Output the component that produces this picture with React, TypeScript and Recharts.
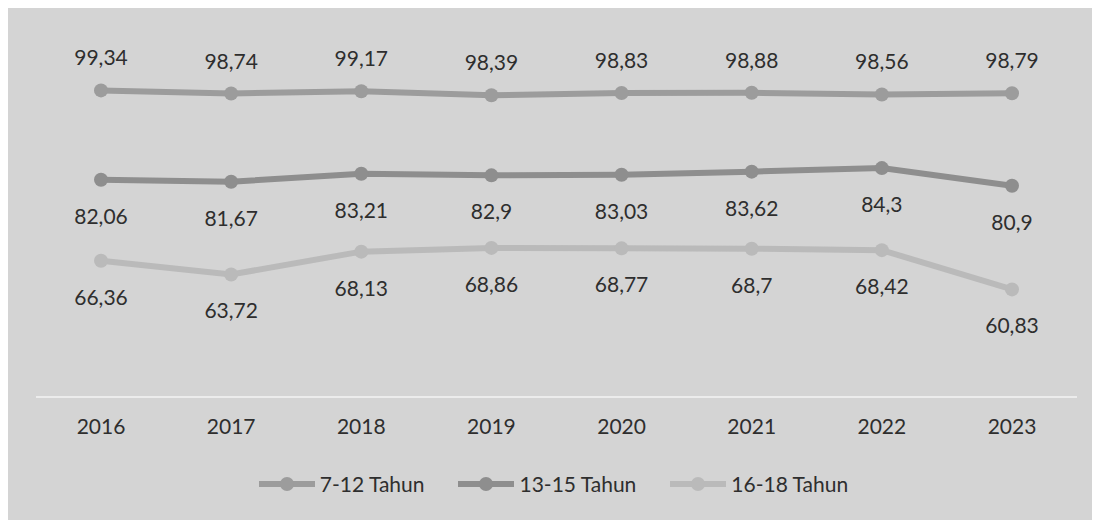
import React from "react";
import { LineChart, Line, XAxis, YAxis, Legend, LabelList } from "recharts";

const years = ["2016", "2017", "2018", "2019", "2020", "2021", "2022", "2023"];
const s712 = [99.34, 98.74, 99.17, 98.39, 98.83, 98.88, 98.56, 98.79];
const s1315 = [82.06, 81.67, 83.21, 82.9, 83.03, 83.62, 84.3, 80.9];
const s1618 = [66.36, 63.72, 68.13, 68.86, 68.77, 68.7, 68.42, 60.83];
const seriesNames = ["7-12 Tahun", "13-15 Tahun", "16-18 Tahun"];
const colors = ["#9c9c9c", "#8e8e8e", "#bababa"];

const data = years.map((y, i) => ({ year: y, a: s712[i], b: s1315[i], c: s1618[i] }));

const fmt = (v: any) => String(v).replace(".", ",");
const FONT = "Lato, 'Open Sans', sans-serif";
const TEXT = "#2e2e2e";

const LegendContent = (props: any) => {
  const payload = [...(props.payload || [])].sort(
    (x: any, y: any) => seriesNames.indexOf(x.value) - seriesNames.indexOf(y.value)
  );
  return (
    <div style={{ display: "flex", justifyContent: "center", alignItems: "center", gap: 34, fontFamily: FONT, fontSize: 21, color: TEXT }}>
      {payload.map((p: any, i: number) => (
        <div key={i} style={{ display: "flex", alignItems: "center" }}>
          <svg width={56} height={20} style={{ marginRight: 5 }}>
            <line x1={0} y1={10} x2={56} y2={10} stroke={p.color} strokeWidth={6} />
            <circle cx={28} cy={10} r={7} fill={p.color} />
          </svg>
          <span>{p.value}</span>
        </div>
      ))}
    </div>
  );
};

export default function App() {
  return (
    <div style={{ position: "relative", width: 1093, height: 515, background: "#d4d4d4", margin: "-3px 0 0 -1px" }}>
      <LineChart width={1093} height={515} data={data} margin={{ top: 82, right: 23, left: 29, bottom: 58 }}>
        <XAxis
          dataKey="year"
          padding={{ left: 65, right: 65 }}
          axisLine={{ stroke: "#ececec", strokeWidth: 2 }}
          tickLine={false}
          height={40}
          tickMargin={16}
          tick={{ fill: TEXT, fontSize: 21, fontFamily: FONT }}
        />
        <YAxis hide domain={[40, 100]} />
        <Legend verticalAlign="bottom" content={<LegendContent />} wrapperStyle={{ top: 466, left: 0, width: 1093 }} />
        <Line dataKey="a" name={seriesNames[0]} stroke={colors[0]} strokeWidth={6} dot={{ r: 7, fill: colors[0], stroke: "none" }} isAnimationActive={false}>
          <LabelList dataKey="a" position="top" offset={25} formatter={fmt} style={{ fill: TEXT, fontSize: 21, fontFamily: FONT }} />
        </Line>
        <Line dataKey="b" name={seriesNames[1]} stroke={colors[1]} strokeWidth={6} dot={{ r: 7, fill: colors[1], stroke: "none" }} isAnimationActive={false}>
          <LabelList dataKey="b" position="bottom" offset={29} formatter={fmt} style={{ fill: TEXT, fontSize: 21, fontFamily: FONT }} />
        </Line>
        <Line dataKey="c" name={seriesNames[2]} stroke={colors[2]} strokeWidth={6} dot={{ r: 7, fill: colors[2], stroke: "none" }} isAnimationActive={false}>
          <LabelList dataKey="c" position="bottom" offset={29} formatter={fmt} style={{ fill: TEXT, fontSize: 21, fontFamily: FONT }} />
        </Line>
      </LineChart>
    </div>
  );
}
